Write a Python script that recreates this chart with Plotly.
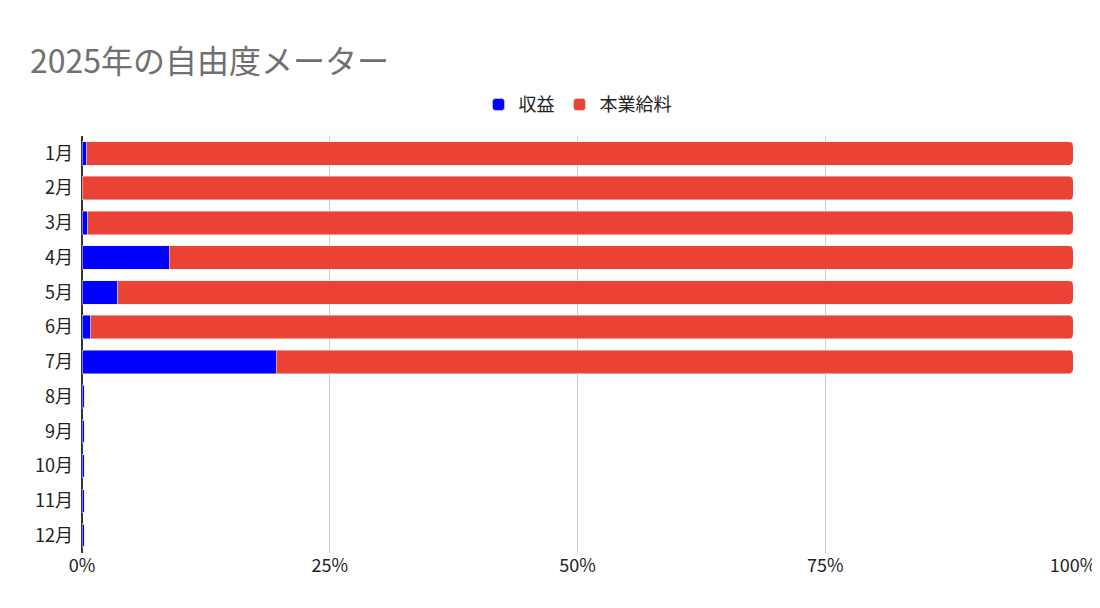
import plotly.graph_objects as go

months = ["1月","2月","3月","4月","5月","6月","7月","8月","9月","10月","11月","12月"]
income = [0.5, 0.0, 0.6, 8.8, 3.6, 0.9, 19.6, 0.25, 0.25, 0.25, 0.25, 0.25]
salary = [99.5, 100.0, 99.4, 91.2, 96.4, 99.1, 80.4, 0, 0, 0, 0, 0]
ticks = [0, 25, 50, 75, 100]
tick_labels = ["0%", "25%", "50%", "75%", "100%"]

fig = go.Figure()
fig.add_bar(y=months, x=income, name="収益", orientation="h", marker_color="#0000ff")
fig.add_bar(y=months, x=salary, name="本業給料", orientation="h", marker_color="#ea4335")
fig.update_layout(
    barmode="stack", bargap=0.32, barcornerradius=4,
    width=1100, height=608, plot_bgcolor="white", paper_bgcolor="white",
    font=dict(family="Noto Sans CJK JP", size=18, color="#222"),
    title=dict(text="2025年の自由度メーター", x=0.02, y=0.93, font=dict(size=32, color="#707070")),
    legend=dict(orientation="h", x=0.5, xanchor="center", y=1.075, yanchor="middle",
                traceorder="normal", font=dict(size=18)),
    margin=dict(l=74, r=27, t=128, b=63),
)
fig.update_xaxes(range=[0, 100], tickvals=ticks, ticktext=tick_labels, showgrid=True,
                 gridcolor="#cccccc", zeroline=True, zerolinecolor="#333", zerolinewidth=2)
fig.update_yaxes(autorange="reversed", ticksuffix="  ")
fig.write_html("out.html")
